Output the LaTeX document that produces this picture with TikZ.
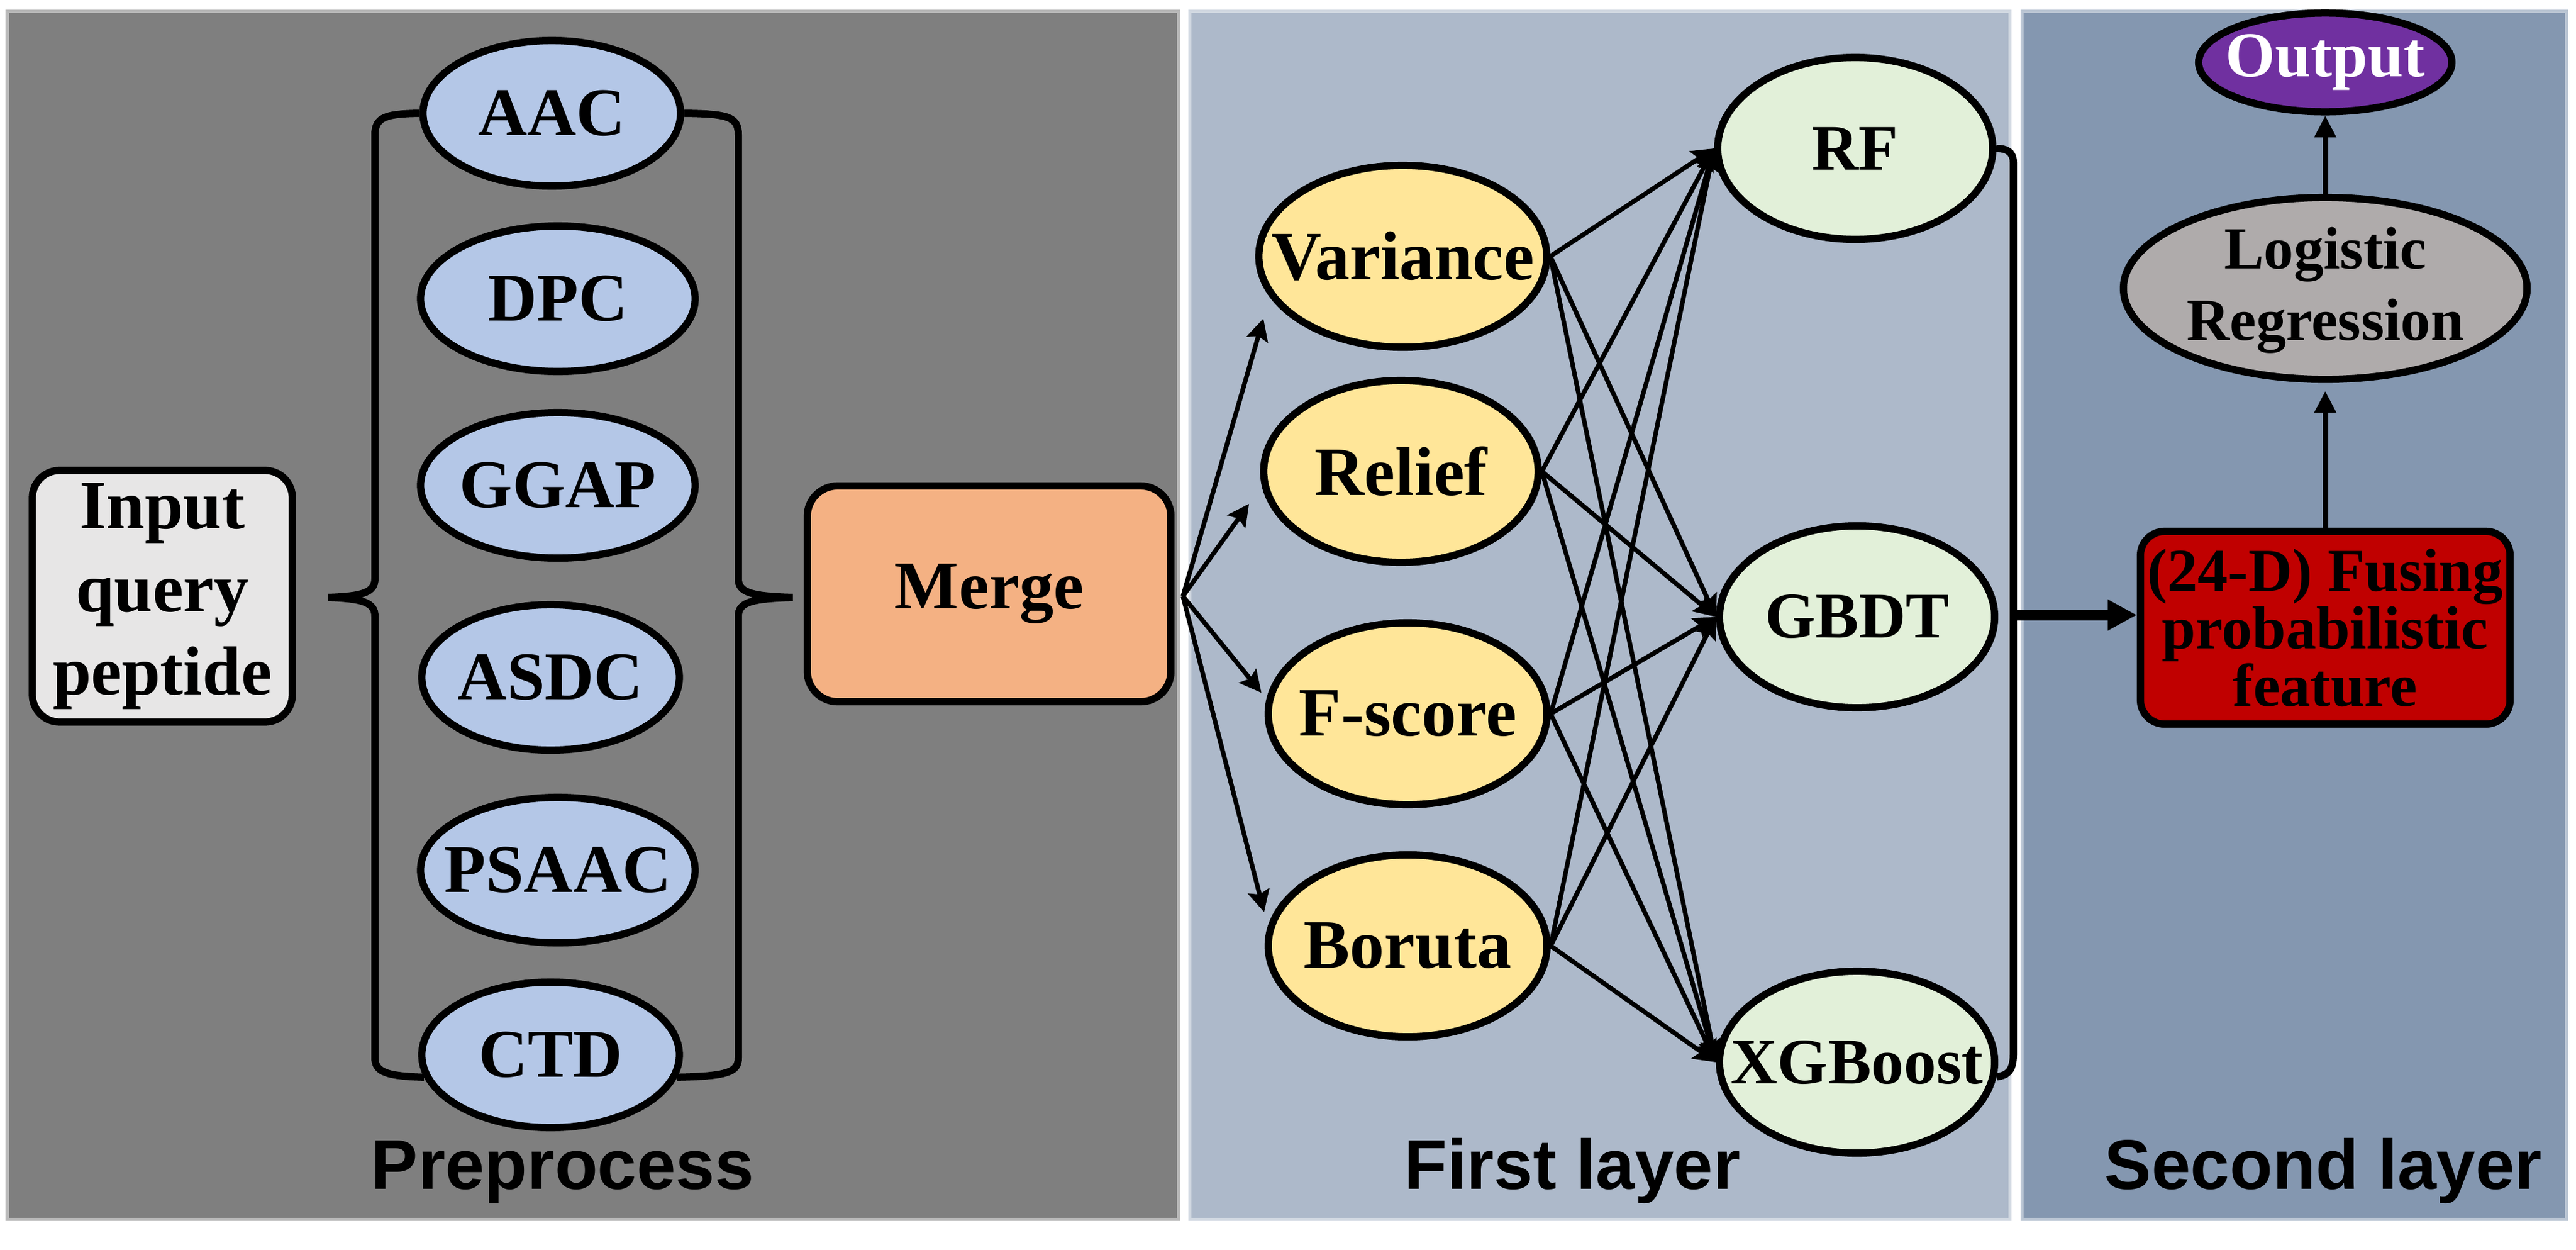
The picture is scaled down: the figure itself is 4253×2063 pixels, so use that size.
\documentclass[tikz,border=0pt]{standalone}
\usepackage{fontspec}
\setmainfont{Liberation Serif}
\setsansfont{Liberation Sans}
\usetikzlibrary{shapes.geometric,arrows.meta}

\definecolor{prepgray}{HTML}{7F7F7F}
\definecolor{firstblue}{HTML}{ADB9CA}
\definecolor{secondblue}{HTML}{8497B0}
\definecolor{featblue}{HTML}{B4C7E7}
\definecolor{inputgray}{HTML}{E7E6E6}
\definecolor{mergeorange}{HTML}{F4B183}
\definecolor{selyellow}{HTML}{FFE699}
\definecolor{clfgreen}{HTML}{E2F0D9}
\definecolor{lrgray}{HTML}{AFABAB}
\definecolor{fusered}{HTML}{C00000}
\definecolor{outpurple}{HTML}{7030A0}

%% text that does not widen its ellipse
\newcommand{\zw}[1]{\makebox[0pt]{#1}}

\tikzset{
    feat/.style={ellipse,draw,line width=0.12cm,fill=featblue,
        minimum width=4.25cm,minimum height=2.4cm,inner sep=0pt,
        font=\fontsize{32}{38}\selectfont\bfseries},
    sel/.style={ellipse,draw,line width=0.12cm,fill=selyellow,
        minimum width=4.6cm,minimum height=3cm,inner sep=0pt,
        font=\fontsize{32.5}{39}\selectfont\bfseries},
    clf/.style={ellipse,draw,line width=0.12cm,fill=clfgreen,
        minimum width=4.54cm,minimum height=3cm,inner sep=0pt,
        font=\fontsize{30.5}{37}\selectfont\bfseries},
    block/.style={rectangle,draw,line width=0.12cm,rounded corners=0.45cm,
        inner sep=0.05cm,align=center},
    brace/.style={line width=0.12cm},
    link/.style={line width=0.075cm,->},
    bigarrow/.style={line width=0.17cm,-{Triangle[length=0.48cm,width=0.48cm]}},
    uparrow/.style={line width=0.09cm,-{Triangle[length=0.36cm,width=0.34cm]}},
    paneltitle/.style={anchor=base,font=\fontsize{33}{40}\selectfont\sffamily\bfseries},
    >={Stealth[length=0.36cm,width=0.36cm,inset=0.06cm]}
}

\begin{document}
\begin{tikzpicture}[x=0.01cm,y=-0.01cm]
        \useasboundingbox (0,0) rectangle (4253,2063);
        %% Panels
        \filldraw[fill=prepgray,draw=prepgray!55!white,line width=0.05cm]
            (12,18) rectangle (1945,2012);
        \filldraw[fill=firstblue,draw=firstblue!55!white,line width=0.05cm]
            (1964,18) rectangle (3318,2012);
        \filldraw[fill=secondblue,draw=secondblue!55!white,line width=0.05cm]
            (3338,18) rectangle (4237,2012);
        \node[paneltitle] (pretitle) at (929,1962) {Preprocess};
        \node[paneltitle] (firsttitle) at (2596,1962) {First layer};
        \node[paneltitle] (secondtitle) at (3836,1962) {Second layer};
        %% Input
        \node[block,fill=inputgray,minimum width=4.29cm,minimum height=4.15cm,
            font=\fontsize{32.5}{39}\selectfont\bfseries]
            (input) at (268,984) {Input\\query\\peptide};
        %% Encodings
        \node[feat] (aac) at (911,187) {\zw{AAC}};
        \node[feat,minimum width=4.53cm] (dpc) at (921,493) {\zw{DPC}};
        \node[feat,minimum width=4.53cm] (ggap) at (921,801) {\zw{GGAP}};
        \node[feat] (asdc) at (909,1118) {\zw{ASDC}};
        \node[feat,minimum width=4.53cm] (psaac) at (921,1436) {\zw{PSAAC}};
        \node[feat] (ctd) at (909,1741) {\zw{CTD}};
        %% Braces
        \draw[brace] (aac.west) .. controls (640,188) and (619,192) .. (619,222)
            -- (619,955) .. controls (619,978) and (598,984) .. (542,986)
            .. controls (598,988) and (619,994) .. (619,1017)
            -- (619,1746) .. controls (619,1770) and (640,1776) .. (ctd.190);
        \draw[brace] (aac.east) .. controls (1200,188) and (1219,192) .. (1219,222)
            -- (1219,955) .. controls (1219,978) and (1240,984) .. (1309,986)
            .. controls (1240,988) and (1219,994) .. (1219,1017)
            -- (1219,1746) .. controls (1219,1770) and (1200,1776) .. (ctd.-10);
        %% Merge
        \node[block,fill=mergeorange,rounded corners=0.5cm,minimum width=6cm,
            minimum height=3.56cm,font=\fontsize{32}{38}\selectfont\bfseries]
            (merge) at (1633,980) {Merge};
        \coordinate (fan) at (1953,984);
        %% Feature selection
        \node[sel,minimum width=4.75cm] (var) at (2316,423) {\zw{Variance}};
        \node[sel,minimum width=4.53cm] (rel) at (2313,778) {\zw{Relief}};
        \node[sel] (fsc) at (2324,1178) {\zw{F-score}};
        \node[sel] (bor) at (2324,1561) {\zw{Boruta}};
        \draw[link,shorten >=0.37cm] (fan) -- (var.197);
        \draw[link,shorten >=0.36cm] (fan) -- (rel.186);
        \draw[link,shorten >=0.13cm] (fan) -- (fsc.174);
        \draw[link,shorten >=0.24cm] (fan) -- (bor.172);
        %% Classifiers
        \node[clf] (rf) at (3063,245) {\zw{RF}};
        \node[clf] (gbdt) at (3066,1018) {\zw{GBDT}};
        \node[clf] (xgb) at (3066,1753) {\zw{XGBoost}};
        \draw[link] (var.east) -- (rf.west);
        \draw[link] (var.east) -- (gbdt.west);
        \draw[link] (var.east) -- (xgb.west);
        \draw[link] (rel.east) -- (rf.west);
        \draw[link] (rel.east) -- (gbdt.west);
        \draw[link] (rel.east) -- (xgb.west);
        \draw[link] (fsc.east) -- (rf.west);
        \draw[link] (fsc.east) -- (gbdt.west);
        \draw[link] (fsc.east) -- (xgb.west);
        \draw[link] (bor.east) -- (rf.west);
        \draw[link] (bor.east) -- (gbdt.west);
        \draw[link] (bor.east) -- (xgb.west);
        %% Bracket
        \draw[brace] (rf.east) .. controls (3312,245) and (3324,250) .. (3324,268)
            -- (3324,1740) .. controls (3324,1770) and (3312,1775) .. (xgb.-6);
        \coordinate (join) at (3324,1015);
        %% Second layer
        \node[block,fill=fusered,rounded corners=0.4cm,minimum width=6.1cm,
            minimum height=3.18cm,font=\fontsize{28.5}{27}\selectfont\bfseries]
            (fuse) at (3839,1036) {(24-D) Fusing\\probabilistic\\feature};
        \draw[bigarrow] (join) -- (join -| fuse.west);
        \node[ellipse,draw,line width=0.12cm,fill=lrgray,minimum width=6.66cm,
            minimum height=3cm,inner sep=0pt,text height=14pt,text depth=0pt,
            font=\fontsize{28}{33.6}\selectfont\bfseries]
            (logr) at (3839,476)
            {\zw{\begin{tabular}{@{}c@{}}Logistic\\Regression\end{tabular}}};
        \node[ellipse,draw,line width=0.12cm,fill=outpurple,minimum width=4.18cm,
            minimum height=1.63cm,inner sep=0pt,text=white,
            font=\fontsize{30}{36}\selectfont\bfseries]
            (out) at (3839,103) {\zw{Output}};
        \draw[uparrow,shorten >=0.13cm] (fuse.north) -- (logr.south);
        \draw[uparrow] (logr.north) -- (out.south);
\end{tikzpicture}
\end{document}
